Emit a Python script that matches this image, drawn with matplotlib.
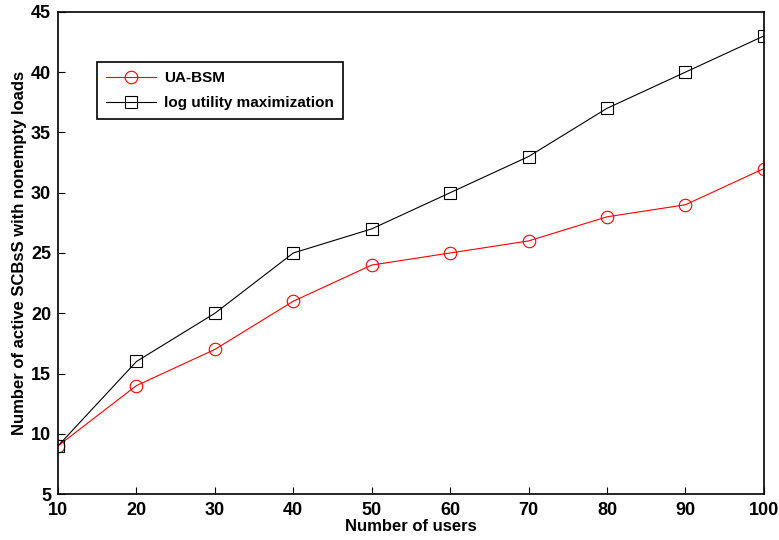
import matplotlib
matplotlib.use("Agg")
import matplotlib.pyplot as plt

users = [10, 20, 30, 40, 50, 60, 70, 80, 90, 100]
ua_bsm = [9, 14, 17, 21, 24, 25, 26, 28, 29, 32]
log_util = [9, 16, 20, 25, 27, 30, 33, 37, 40, 43]

plt.rcParams['font.family'] = ['Liberation Sans', 'DejaVu Sans']
plt.rcParams['font.weight'] = 'bold'

fig = plt.figure(figsize=(7.79, 5.40), dpi=100)
ax = fig.add_axes([0.0745, 0.085, 0.906, 0.893])

ax.plot(users, ua_bsm, color='red', linewidth=0.8, marker='o', markersize=9,
        markerfacecolor='none', markeredgecolor='red', markeredgewidth=0.8, label='UA-BSM')
ax.plot(users, log_util, color='black', linewidth=0.8, marker='s', markersize=8,
        markerfacecolor='none', markeredgecolor='black', markeredgewidth=0.8,
        label='log utility maximization')

ax.set_xlim(10, 100)
ax.set_ylim(5, 45)
ax.set_xticks(range(10, 101, 10))
ax.set_yticks(range(5, 46, 5))
ax.tick_params(direction='in', labelsize=13, length=5, width=0.8)
ax.tick_params(axis='x', pad=6)
ax.tick_params(axis='y', pad=5)
for lab in ax.get_xticklabels() + ax.get_yticklabels():
    lab.set_fontweight('bold')
for s in ax.spines.values():
    s.set_linewidth(1.2)

ax.set_xlabel('Number of users', fontsize=12, fontweight='bold', labelpad=0)
ax.set_ylabel('Number of active SCBsS with nonempty loads', fontsize=12,
              fontweight='bold', labelpad=3)

leg = ax.legend(loc='upper left', bbox_to_anchor=(0.055, 0.896), borderaxespad=0,
                fancybox=False, edgecolor='black', fontsize=11, handlelength=3.3,
                borderpad=0.6, labelspacing=0.7, framealpha=1, handletextpad=0.5)
leg.get_frame().set_linewidth(1.2)

fig.savefig('out.png', dpi=100)
